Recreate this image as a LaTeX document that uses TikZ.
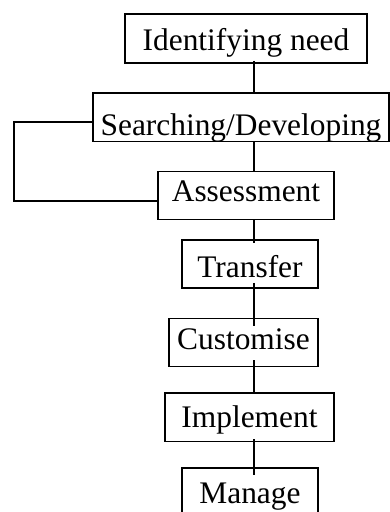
\documentclass[tikz,border=0pt]{standalone}
\usepackage{fontspec}
\setmainfont{Liberation Serif}
\begin{document}
\begin{tikzpicture}[x=1pt,y=1pt,
  stage/.style={draw, line width=1.8pt, rectangle, inner sep=0pt, minimum height=48pt,
    font=\fontsize{31.4}{36}\selectfont, align=center},
  link/.style={line width=1.8pt}]
\useasboundingbox (0,0) rectangle (390,512);
% boxes
\node[stage, minimum width=242pt, minimum height=49pt, text height=36.7pt, text depth=12.3pt] (need) at (246,473.5) {Identifying need};
\node[stage, minimum width=296pt, minimum height=48.5pt, text height=43pt, text depth=5.5pt] (search) at (241,394.75) {Searching/Developing};
\node[stage, minimum width=176pt, minimum height=48pt, text height=30pt, text depth=18pt] (assess) at (246,316.5) {Assessment};
\node[stage, minimum width=136pt, minimum height=48pt, text height=38pt, text depth=10pt] (transfer) at (250,248) {Transfer};
\node[stage, minimum width=149pt, minimum height=48pt, text height=31.5pt, text depth=16.5pt] (custom) at (243.5,169.5) {Customise};
\node[stage, minimum width=169pt, minimum height=48.5pt, text height=35pt, text depth=13.5pt] (impl) at (249.5,94.75) {Implement};
\node[stage, minimum width=136pt, minimum height=48pt, text height=35pt, text depth=13pt] (manage) at (250,20) {Manage};
% spine
\coordinate (spine) at (254,0);
\draw[link] ([yshift=3pt]need.south -| spine) -- (search.north -| spine);
\draw[link] (search.south -| spine) -- (assess.north -| spine);
\draw[link] (assess.south -| spine) -- ([yshift=-4pt]transfer.north -| spine);
\draw[link] ([yshift=6pt]transfer.south -| spine) -- ([yshift=-8pt]custom.north -| spine);
\draw[link] ([yshift=7pt]custom.south -| spine) -- (impl.north -| spine);
\draw[link] ([yshift=3pt]impl.south -| spine) -- ([yshift=-8pt]manage.north -| spine);
% feedback loop
\coordinate (loopx) at (14,0);
\coordinate (sOut) at ([yshift=-4.5pt]search.west);
\coordinate (aIn) at ([yshift=-5.75pt]assess.west);
\draw[link] (sOut) -- (sOut -| loopx) |- (aIn);
\end{tikzpicture}
\end{document}
